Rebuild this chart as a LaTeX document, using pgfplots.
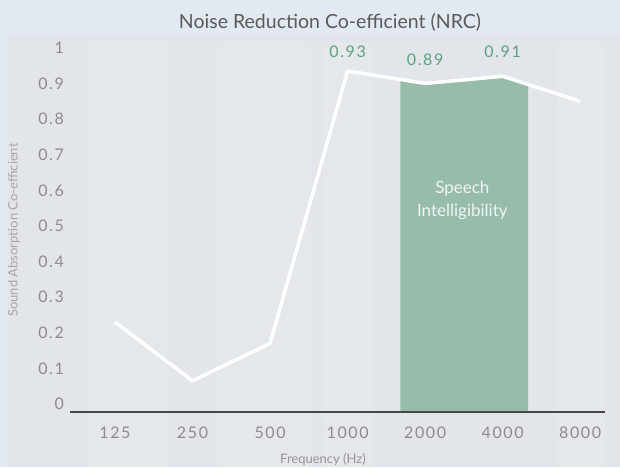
\documentclass[border=0pt]{standalone}
\usepackage{pgfplots}
\pgfplotsset{compat=1.18}
\usepackage{fontspec}
\setmainfont{Lato}
\newfontfamily\tickfont[LetterSpace=10]{Lato}
\definecolor{outerbg}{HTML}{E2E9F0}
\definecolor{innerbg}{HTML}{E2E6EA}
\definecolor{bandbg}{HTML}{E4E8EB}
\definecolor{areagreen}{HTML}{97BCAA}
\definecolor{labgreen}{HTML}{5E9F80}
\definecolor{tickgray}{HTML}{8C8C8C}
\definecolor{titlegray}{HTML}{5A5A5A}
\begin{document}
\begin{tikzpicture}
\fill[outerbg] (0pt,0pt) rectangle (620pt,467pt);
\fill[innerbg] (8pt,0pt) rectangle (620pt,432pt);
\fill[bandbg] (88pt,0pt) rectangle (167pt,425pt);
\fill[bandbg] (218pt,0pt) rectangle (310pt,425pt);
\fill[bandbg] (323pt,0pt) rectangle (373pt,425pt);
\fill[bandbg] (557pt,0pt) rectangle (605pt,425pt);
\path[use as bounding box] (0pt,0pt) rectangle (620pt,467pt);
\begin{axis}[
  at={(70pt,55pt)}, anchor=south west,
  scale only axis, width=535pt, height=372pt,
  xmin=-0.58, xmax=6.32, ymin=-0.0225, ymax=1.022,
  axis x line=bottom, axis y line=left,
  x axis line style={-, draw=black!72, line width=1.1pt},
  y axis line style={draw=none},
  major tick length=0pt,
  xtick={0,1,2,3,4,5,6},
  xticklabels={125,250,500,1000,2000,4000,8000},
  ytick={0,0.1,0.2,0.3,0.4,0.5,0.6,0.7,0.8,0.9,1},
  yticklabels={0,0.1,0.2,0.3,0.4,0.5,0.6,0.7,0.8,0.9,1},
  xticklabel style={font=\tickfont\fontsize{16}{18}\selectfont, text=tickgray, anchor=center, inner sep=0pt, yshift=-21pt},
  yticklabel style={font=\tickfont\fontsize{16}{18}\selectfont, text=tickgray, anchor=east, inner sep=0pt, xshift=-6pt},
  clip=false,
]
\addplot[draw=none, fill=areagreen] coordinates {(3.68,-0.0225) (3.68,0.91) (4,0.90) (5,0.92) (5.33,0.90) (5.33,-0.0225)} -- cycle;
\addplot[white, line width=3.5pt, line join=round] coordinates {(0,0.23) (1,0.065) (2,0.17) (3,0.935) (4,0.90) (5,0.92) (6,0.85)};
\draw[black!72, line width=1.1pt] (axis cs:-0.58,-0.0225) -- (axis cs:6.32,-0.0225);
\node[text=labgreen, font=\tickfont\fontsize{16}{18}\selectfont] at (axis cs:3,0.989) {0.93};
\node[text=labgreen, font=\tickfont\fontsize{16}{18}\selectfont] at (axis cs:4,0.966) {0.89};
\node[text=labgreen, font=\tickfont\fontsize{16}{18}\selectfont] at (axis cs:5,0.989) {0.91};
\node[text=white!85!areagreen, font=\fontsize{17}{23}\selectfont, align=center] at (axis cs:4.48,0.573) {Speech\\Intelligibility};
\end{axis}
\node[text=titlegray, font=\fontsize{19.5}{22}\selectfont] at (330pt,445pt) {Noise Reduction Co-efficient (NRC)};
\node[text=black!35, font=\fontsize{13}{15}\selectfont, rotate=90] at (14pt,237pt) {Sound Absorption Co-efficient};
\node[text=black!42, font=\fontsize{13}{15}\selectfont, inner sep=0pt, anchor=south] at (323pt,1pt) {Frequency (Hz)};
\end{tikzpicture}
\end{document}
